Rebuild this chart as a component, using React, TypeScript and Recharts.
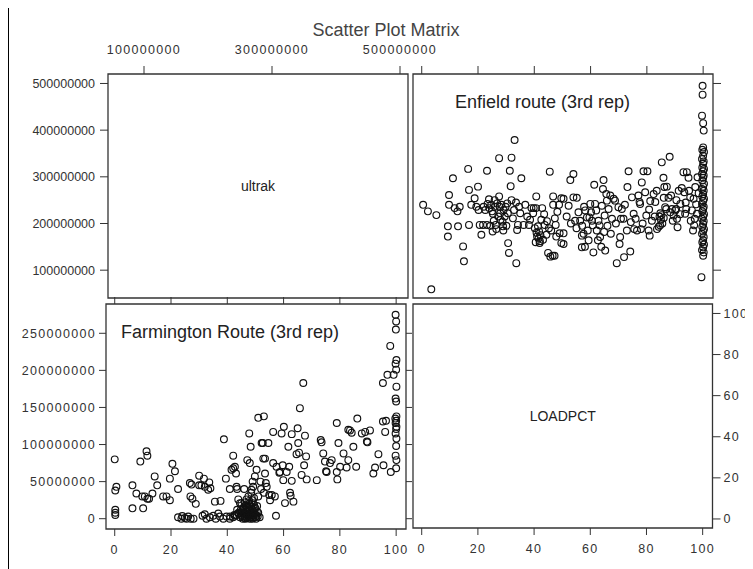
import React from "react";
import { ScatterChart, Scatter, XAxis, YAxis, ReferenceArea } from "recharts";

// Enfield route (3rd rep): [LOADPCT, ultrak in millions]
const enfieldPoints: [number, number][] = [
  [0.5, 240], [2.2, 226], [5.2, 218], [3.4, 59], [9.3, 194], [9.3, 172], [9.7, 261], [9.7, 240],
  [11.1, 297], [11.7, 233], [12.7, 226], [13.5, 236], [12.9, 194], [14.7, 151], [15.0, 119], [16.5, 317],
  [16.8, 272], [16.8, 197], [17.6, 240], [18.8, 254], [19.4, 236], [20.0, 279], [20.2, 229], [20.6, 197],
  [21.2, 176], [21.8, 197], [23.2, 313], [23.2, 197], [23.4, 242], [23.9, 252], [24.4, 195], [24.7, 240],
  [25.3, 221], [25.6, 206], [26.3, 197], [25.9, 250], [27.5, 340], [27.5, 258], [27.7, 236], [27.9, 222],
  [28.3, 240], [28.7, 204], [28.9, 194], [29.1, 229], [29.5, 215], [30.1, 195], [30.4, 243], [30.7, 158],
  [31.0, 137], [31.3, 313], [31.9, 341], [31.6, 280], [31.9, 250], [32.4, 211], [33.0, 379], [33.6, 115],
  [33.9, 186], [34.2, 197], [34.6, 236], [35.4, 297], [36.2, 197], [38.1, 197], [39.0, 233], [39.8, 233],
  [40.6, 233], [39.6, 222], [40.7, 258], [41.0, 172], [41.3, 194], [41.7, 183], [41.9, 158], [42.5, 208],
  [42.8, 233], [43.1, 165], [43.7, 197], [44.3, 176], [44.9, 137], [45.5, 311], [45.7, 129], [46.5, 131],
  [47.2, 131], [46.7, 258], [46.7, 240], [47.3, 211], [47.6, 197], [47.8, 172], [49.0, 179], [49.6, 158],
  [49.6, 254], [40.2, 190], [40.8, 180], [41.5, 168], [42.0, 162], [40.5, 160], [42.2, 175],
  [22.0, 236], [22.6, 229], [24.0, 233], [25.0, 226], [26.0, 236], [26.8, 243], [27.2, 215], [28.0, 208],
  [29.8, 236], [30.6, 222], [26.5, 188], [25.2, 183], [29.0, 185], [32.8, 229], [33.5, 245], [35.0, 222],
  [36.8, 240], [37.5, 215], [38.5, 208], [43.5, 220], [44.5, 205], [45.2, 190], [46.0, 185], [48.2, 225],
  [48.8, 240],
  [50.4, 253], [50.4, 179], [50.4, 156], [52.2, 238], [52.8, 293], [53.9, 306], [53.9, 256], [54.5, 206],
  [55.1, 255], [55.7, 224], [56.3, 206], [56.9, 174], [56.9, 149], [57.5, 178], [57.7, 236], [58.1, 228],
  [58.7, 213], [59.3, 164], [59.6, 213], [59.9, 242], [60.5, 206], [60.8, 196], [61.0, 138], [61.3, 283],
  [61.6, 242], [62.0, 228], [62.2, 185], [62.6, 164], [62.8, 206], [63.2, 196], [63.4, 171], [64.0, 238],
  [64.4, 274], [64.6, 293], [65.0, 217], [65.2, 142], [65.6, 263], [65.8, 249], [66.4, 231], [67.0, 260],
  [67.6, 210], [68.2, 253], [68.7, 249], [69.3, 115], [69.9, 235], [70.3, 156], [70.5, 171], [71.1, 231],
  [71.7, 210], [71.9, 128], [72.9, 185], [73.1, 278], [73.5, 312], [74.1, 140], [74.3, 203], [74.7, 256],
  [75.3, 221], [75.5, 188], [76.5, 185], [77.0, 260], [77.4, 246], [77.6, 242], [77.9, 188], [78.2, 288],
  [78.8, 312], [79.4, 267], [79.8, 217], [80.2, 312], [80.6, 185], [81.0, 174], [81.2, 248], [81.8, 206],
  [82.4, 263], [83.0, 246], [83.6, 188], [84.2, 193], [84.7, 196], [85.3, 331], [85.9, 298], [86.2, 278],
  [86.5, 235], [86.9, 231], [87.1, 279], [87.7, 255], [88.1, 343], [88.3, 224], [88.9, 231], [89.2, 206],
  [89.5, 217], [90.1, 228], [90.4, 231], [90.7, 210], [90.9, 192], [91.3, 270], [91.9, 242], [92.4, 276],
  [93.0, 310], [93.3, 267], [93.6, 221], [94.0, 231], [94.2, 310], [94.8, 298], [95.4, 256], [95.6, 206],
  [96.0, 228], [96.4, 185], [96.6, 253], [96.8, 196], [97.2, 278], [97.5, 241], [97.8, 221], [98.0, 299],
  [84.5, 215], [85.0, 208], [85.5, 200], [86.0, 212], [84.8, 222], [85.2, 218],
  [51.5, 215], [53.0, 200], [55.0, 190], [57.0, 195], [58.0, 150], [59.0, 185], [60.2, 224], [63.8, 150],
  [64.8, 182], [66.0, 195], [67.2, 178], [69.0, 200], [70.8, 210], [72.2, 240], [76.0, 210], [78.5, 200],
  [80.8, 230], [82.8, 215], [83.5, 270], [86.0, 255], [88.6, 260], [90.5, 250], [91.8, 220], [93.8, 245],
  [95.0, 270], [97.0, 210], [98.4, 265],
  // the stack at full load
  [99.8, 495], [99.8, 476], [99.6, 431], [100.0, 415], [100.2, 399], [100.0, 363], [99.7, 358], [100.3, 353],
  [100.0, 345], [99.6, 338], [100.2, 333], [100.0, 328], [99.7, 320], [100.3, 317], [100.0, 312], [99.6, 306],
  [100.2, 303], [100.0, 298], [99.7, 292], [100.3, 285], [100.0, 279], [99.6, 274], [100.2, 270], [100.0, 263],
  [99.7, 258], [100.3, 253], [100.0, 248], [99.6, 242], [100.2, 236], [100.0, 231], [99.7, 226], [100.3, 220],
  [100.0, 215], [99.6, 210], [100.2, 205], [100.0, 199], [99.7, 193], [100.3, 188], [100.0, 183], [99.6, 178],
  [100.2, 171], [100.0, 164], [99.7, 160], [100.3, 155], [100.0, 149], [99.6, 143], [100.2, 138], [100.0, 131],
  [99.4, 85],
];

// Farmington Route (3rd rep): [LOADPCT, volume in millions]
const farmingtonPoints: [number, number][] = [
  [0.0, 80], [0.6, 43], [0.2, 38], [0.2, 12], [0.2, 8], [0.2, 5],
  [6.3, 45], [6.3, 14], [7.7, 34], [9.1, 77], [9.8, 30], [10.1, 14], [10.7, 30], [11.3, 91], [11.6, 85],
  [11.6, 27], [12.2, 27], [13.4, 34], [14.2, 57], [15.1, 45], [17.2, 30], [18.4, 30], [19.6, 25], [19.6, 54],
  [20.5, 74], [21.4, 64], [22.5, 40],
  [22.5, 2], [23.7, 0], [24.9, 1], [26.1, 3], [24.0, 3.5], [25.5, 0], [27.0, 0], [28.0, 0],
  [26.7, 48], [27.3, 46], [26.9, 30], [27.6, 27], [28.8, 20], [30.0, 45], [30.0, 58], [30.8, 45], [31.7, 54],
  [32.0, 43], [33.2, 39], [33.6, 49], [34.0, 41],
  [31.2, 4], [32.0, 6], [32.6, 0], [33.8, 2], [35.0, 4], [35.9, 0], [36.8, 7], [37.4, 3], [38.6, 0], [39.7, 3],
  [40.9, 0], [42.1, 2], [42.7, 4], [43.3, 5], [43.9, 7],
  [35.6, 23], [37.6, 24], [38.8, 107], [39.5, 54], [40.9, 40], [41.5, 66], [42.1, 85], [42.1, 68], [42.7, 70],
  [43.1, 61], [43.3, 43], [43.5, 40], [43.9, 26], [44.5, 21],
  [44.5, 2], [45.0, 5], [45.2, 10], [45.5, 0], [45.8, 15], [46.0, 3], [46.0, 8], [46.3, 12], [46.5, 0],
  [46.5, 18], [46.8, 5], [47.0, 1], [47.0, 10], [47.2, 14], [47.5, 3], [47.5, 7], [47.7, 20], [48.0, 0],
  [48.0, 11], [48.2, 5], [48.5, 16], [48.5, 2], [48.8, 8], [49.0, 12], [49.0, 0], [49.2, 4], [49.5, 19],
  [49.5, 9], [49.8, 2], [50.0, 14], [50.0, 6], [50.2, 0], [50.5, 10], [50.8, 3], [46.2, 22], [47.8, 24],
  [48.8, 25], [45.0, 21], [44.0, 8], [43.5, 12], [42.5, 5], [41.0, 3], [51.0, 8], [51.5, 2],
  [45.3, 3], [45.7, 7], [46.2, 1], [46.6, 10], [47.3, 5], [47.9, 2], [48.3, 8], [48.7, 13], [49.3, 6],
  [49.7, 15], [50.3, 4], [46.9, 16], [47.6, 12], [48.1, 18], [49.1, 21], [45.5, 13], [44.8, 12], [50.6, 17],
  [46.8, 26], [47.5, 30], [48.5, 35], [46.0, 40], [49.5, 28], [51.0, 30], [52.0, 40], [53.0, 35],
  [47.1, 79], [47.8, 115], [48.0, 75], [48.3, 97], [48.6, 39], [49.0, 50], [49.2, 43], [49.8, 57], [50.4, 66],
  [51.0, 136], [51.8, 50], [52.2, 102], [52.6, 102], [52.8, 81], [53.4, 81], [53.0, 138], [53.4, 61],
  [53.7, 48], [54.0, 43], [54.6, 102], [54.9, 32], [55.2, 25], [55.8, 32], [56.3, 117], [56.3, 75],
  [56.9, 30], [57.3, 4], [57.5, 70], [58.5, 62], [58.7, 63], [59.3, 115], [59.7, 72], [59.9, 52], [60.1, 124],
  [60.5, 21], [61.1, 63], [61.7, 97], [62.0, 70], [62.3, 35], [62.5, 31], [62.9, 51], [63.5, 23], [62.9, 114],
  [64.6, 87], [65.0, 122], [65.2, 102], [65.5, 89], [65.8, 149], [66.4, 59], [67.0, 183], [67.3, 72],
  [67.6, 112], [68.0, 84], [68.2, 53], [71.8, 52], [73.2, 106], [73.5, 103], [74.1, 88], [74.7, 77],
  [75.1, 64], [75.3, 63], [76.5, 75], [77.1, 79], [78.9, 129], [78.9, 63], [79.1, 53], [79.5, 102],
  [80.1, 70], [81.3, 88], [82.4, 69], [83.0, 120], [83.0, 79], [83.6, 119], [84.2, 116], [84.8, 97],
  [85.8, 70], [86.2, 135], [87.8, 115], [89.0, 117], [89.6, 104], [89.8, 103], [90.7, 119], [91.9, 61],
  [92.5, 69], [93.7, 87], [95.3, 131], [95.5, 72], [96.1, 117], [96.4, 132], [96.9, 194], [95.3, 183],
  [98.1, 63], [97.9, 233], [99.1, 194],
  // the stack at full load
  [99.8, 275], [100.0, 266], [99.9, 255], [100.1, 214], [99.8, 209], [100.0, 201], [100.1, 178], [99.8, 162],
  [100.0, 158], [100.1, 138], [99.7, 135], [100.0, 132], [99.8, 129], [100.1, 124], [100.0, 121], [99.8, 115],
  [100.1, 108], [100.0, 98], [99.8, 85], [100.1, 79], [100.0, 68],
];

const ultrakTicks = [100e6, 200e6, 300e6, 400e6, 500e6];
const ultrakTopTicks = [100e6, 300e6, 500e6];
const loadTicks = [0, 20, 40, 60, 80, 100];
const farmTicks = [0, 50e6, 100e6, 150e6, 200e6, 250e6];

const enfieldData = enfieldPoints.map(([x, y]) => ({ x, y: y * 1e6 }));
const farmingtonData = farmingtonPoints.map(([x, y]) => ({ x, y: y * 1e6 }));
const noPoints: { x: number; y: number }[] = [];

const loadDomain: [number, number] = [-3.1, 103.5];
const ultrakDomain: [number, number] = [40.4e6, 520.3e6];
const ultrakXDomain: [number, number] = [43.75e6, 512.5e6];
const farmDomain: [number, number] = [-13.9e6, 289.5e6];
const loadYDomain: [number, number] = [-4.4, 104.6];

const FONT = '"Liberation Sans", Arial, sans-serif';
const INK = "#333";
const frame = { stroke: INK, strokeWidth: 1.3, fill: "none", fillOpacity: 0 };
const plain = { fontSize: 12.5, fill: INK, fontFamily: FONT };
const spaced = { ...plain, letterSpacing: 1.3 };

const Ring = (props: any) => (
  <circle cx={props.cx} cy={props.cy} r={3.4} fill="none" stroke="#111" strokeWidth={1.15} />
);
const Nothing = () => <g />;

const cornerLabel = (text: string, dx: number) => (props: any) => {
  const vb = props.viewBox || {};
  return (
    <text x={(vb.x || 0) + dx} y={(vb.y || 0) + 34} fontSize={18} fill="#222" fontFamily={FONT}>
      {text}
    </text>
  );
};

export default function App() {
  return (
    <div style={{ position: "relative", width: 745, height: 561, fontFamily: FONT }}>
      <div style={{ position: "absolute", left: 0, top: -1.5, width: 745, borderTop: "1.5px solid #000" }} />
      <div style={{ position: "absolute", left: -0.5, top: -1.5, height: 562.5, borderLeft: "1.5px solid #000" }} />
      <div
        style={{
          position: "absolute", left: 0, top: 12.5, width: 756, textAlign: "center",
          fontSize: 18, lineHeight: "18px", color: "#444",
        }}
      >
        Scatter Plot Matrix
      </div>

      {/* top-left: ultrak diagonal */}
      <div style={{ position: "absolute", left: 0, top: 22 }}>
        <ScatterChart width={444} height={270} margin={{ top: 0, left: 0, right: 44, bottom: 2 }}>
          <XAxis xAxisId="t" orientation="top" type="number" dataKey="x" domain={ultrakXDomain} allowDataOverflow
            ticks={ultrakTopTicks} interval={0} height={44} tick={spaced} stroke={INK}
            tickSize={8} tickMargin={12} axisLine={false} />
          <YAxis yAxisId="l" orientation="left" type="number" dataKey="y" domain={ultrakDomain} allowDataOverflow
            ticks={ultrakTicks} interval={0} width={100} tick={plain} stroke={INK}
            tickSize={8} tickMargin={5} axisLine={false} />
          <ReferenceArea xAxisId="t" yAxisId="l" x1={ultrakXDomain[0]} x2={ultrakXDomain[1]}
            y1={ultrakDomain[0]} y2={ultrakDomain[1]} {...frame}
            label={{ value: "ultrak", position: "center", fontSize: 14, fill: "#222", fontFamily: FONT }} />
          <Scatter data={noPoints} xAxisId="t" yAxisId="l" shape={Ring} isAnimationActive={false} />
        </ScatterChart>
      </div>

      {/* top-right: Enfield */}
      <div style={{ position: "absolute", left: 403, top: 54 }}>
        <ScatterChart width={314} height={238} margin={{ top: 0, left: 2, right: 0, bottom: 2 }}>
          <XAxis xAxisId="t" orientation="top" type="number" dataKey="x" domain={loadDomain} allowDataOverflow
            ticks={loadTicks} interval={0} height={12} tick={Nothing} stroke={INK} tickSize={8}
            axisLine={false} />
          <YAxis yAxisId="r" orientation="right" type="number" dataKey="y" domain={ultrakDomain} allowDataOverflow
            ticks={ultrakTicks} interval={0} width={12} tick={Nothing} stroke={INK} tickSize={8}
            axisLine={false} />
          <ReferenceArea xAxisId="t" yAxisId="r" x1={loadDomain[0]} x2={loadDomain[1]}
            y1={ultrakDomain[0]} y2={ultrakDomain[1]} {...frame}
            label={cornerLabel("Enfield route (3rd rep)", 42)} />
          <Scatter data={enfieldData} xAxisId="t" yAxisId="r" shape={Ring} isAnimationActive={false} />
        </ScatterChart>
      </div>

      {/* bottom-left: Farmington */}
      <div style={{ position: "absolute", left: -2, top: 284 }}>
        <ScatterChart width={412} height={273} margin={{ top: 0, left: 0, right: 0, bottom: 0 }}>
          <XAxis xAxisId="b" orientation="bottom" type="number" dataKey="x" domain={loadDomain} allowDataOverflow
            ticks={loadTicks} interval={0} height={36} tick={spaced} stroke={INK} tickSize={7}
            tickMargin={9} axisLine={false} />
          <XAxis xAxisId="t" orientation="top" type="number" dataKey="x" domain={loadDomain} allowDataOverflow
            ticks={loadTicks} interval={0} height={12} tick={Nothing} stroke={INK} tickSize={7}
            axisLine={false} />
          <YAxis yAxisId="l" orientation="left" type="number" dataKey="y" domain={farmDomain} allowDataOverflow
            ticks={farmTicks} interval={0} width={100} tick={spaced} stroke={INK} tickSize={7}
            tickMargin={3} axisLine={false} />
          <YAxis yAxisId="r" orientation="right" type="number" dataKey="y" domain={farmDomain} allowDataOverflow
            ticks={farmTicks} interval={0} width={12} tick={Nothing} stroke={INK} tickSize={6}
            axisLine={false} />
          <ReferenceArea xAxisId="b" yAxisId="l" x1={loadDomain[0]} x2={loadDomain[1]}
            y1={farmDomain[0]} y2={farmDomain[1]} {...frame}
            label={cornerLabel("Farmington Route (3rd rep)", 15)} />
          <Scatter data={farmingtonData} xAxisId="b" yAxisId="l" shape={Ring} isAnimationActive={false} />
          <Scatter data={noPoints} xAxisId="t" yAxisId="r" shape={Ring} isAnimationActive={false} />
        </ScatterChart>
      </div>

      {/* bottom-right: LOADPCT diagonal */}
      <div style={{ position: "absolute", left: 403, top: 293.5 }}>
        <ScatterChart width={341.5} height={262} margin={{ top: 2, left: 2, right: 0, bottom: 0 }}>
          <XAxis xAxisId="b" orientation="bottom" type="number" dataKey="x" domain={loadDomain} allowDataOverflow
            ticks={loadTicks} interval={0} height={36} tick={spaced} stroke={INK} tickSize={7}
            tickMargin={9} axisLine={false} />
          <YAxis yAxisId="r" orientation="right" type="number" dataKey="y" domain={loadYDomain} allowDataOverflow
            ticks={loadTicks} interval={0} width={40} tick={spaced} stroke={INK} tickSize={8}
            tickMargin={3} axisLine={false} />
          <ReferenceArea xAxisId="b" yAxisId="r" x1={loadDomain[0]} x2={loadDomain[1]}
            y1={loadYDomain[0]} y2={loadYDomain[1]} {...frame}
            label={{ value: "LOADPCT", position: "center", fontSize: 14, fill: "#222", fontFamily: FONT }} />
          <Scatter data={noPoints} xAxisId="b" yAxisId="r" shape={Ring} isAnimationActive={false} />
        </ScatterChart>
      </div>
    </div>
  );
}
